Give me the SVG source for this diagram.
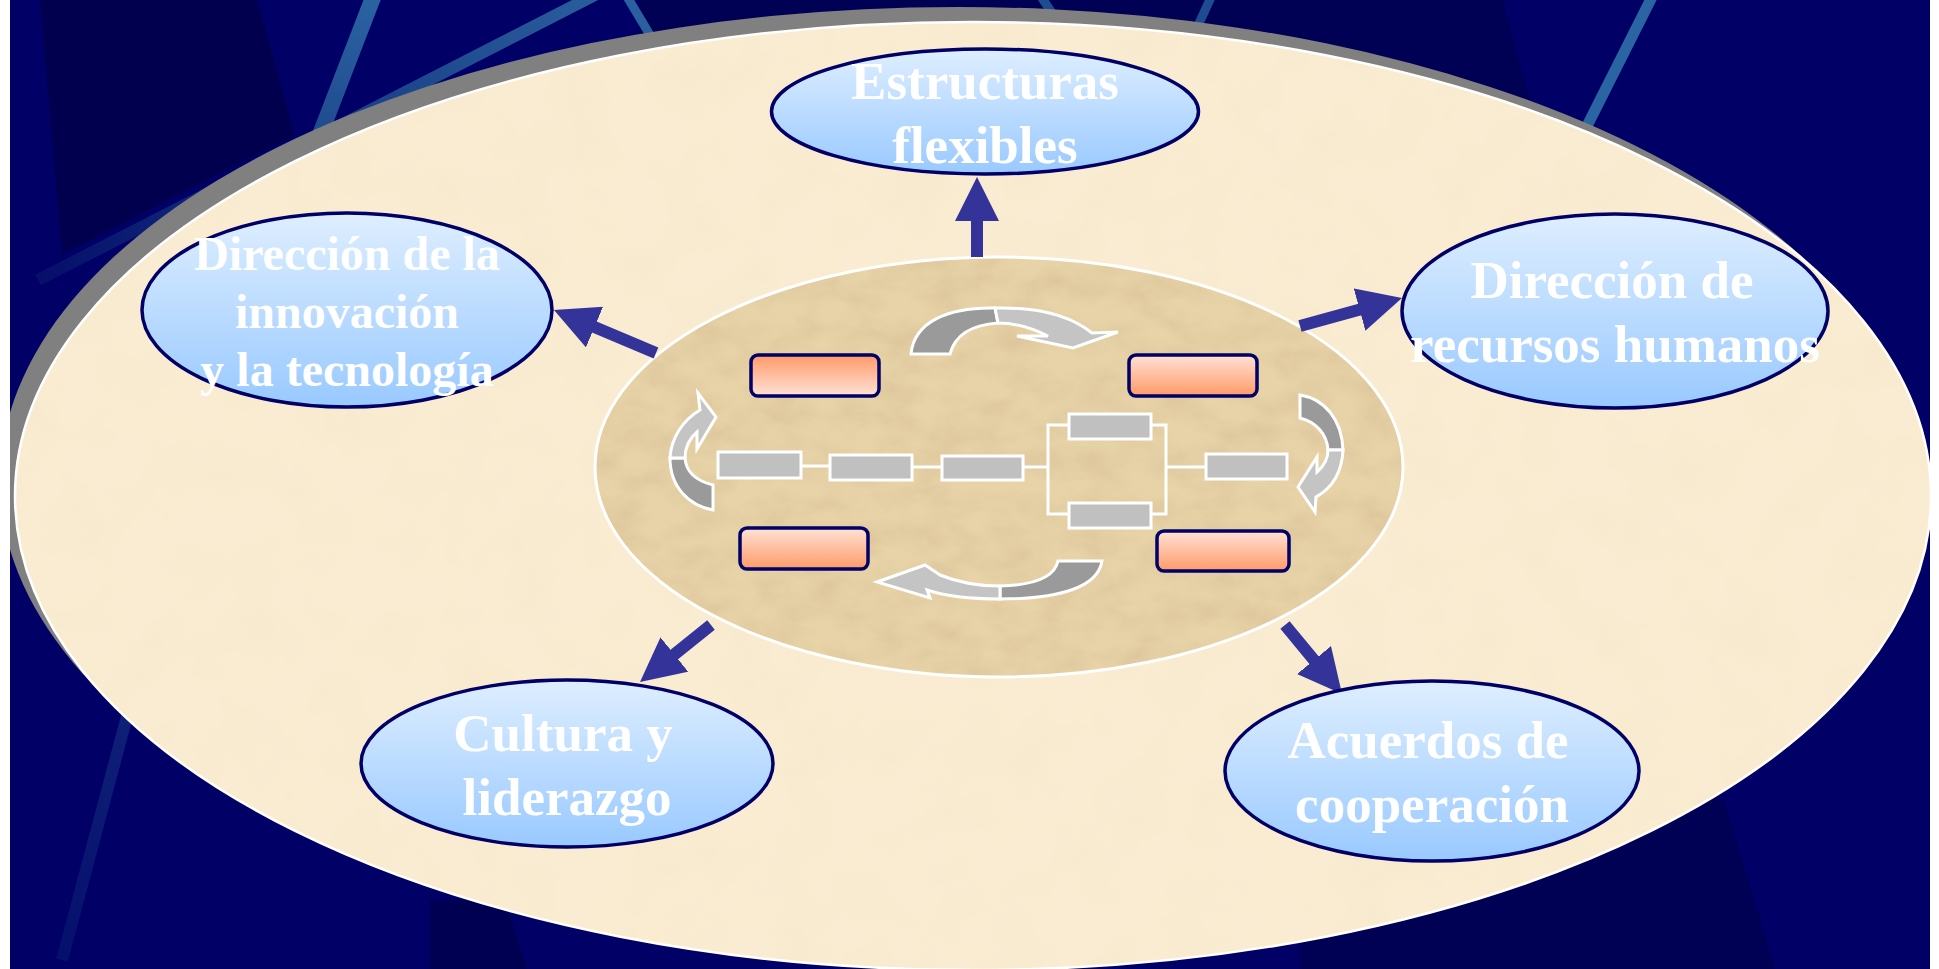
<svg xmlns="http://www.w3.org/2000/svg" width="1939" height="969" viewBox="0 0 1939 969">
<defs>
<style>
.node ellipse{fill:url(#nodeGrad);stroke:#000066;stroke-width:3.5}
.node text{font-family:"Liberation Serif","Times New Roman",serif;font-weight:bold;fill:#ffffff;text-anchor:middle}
.conn line{stroke:#333399;stroke-width:12;marker-end:url(#ah)}
.grect{fill:#c0c0c0;stroke:#ffffff;stroke-width:3}
.wline{stroke:#ffffff;stroke-width:3;fill:none}
.orect{stroke:#000066;stroke-width:3.5}
.dark{fill:#9a9a9a;stroke:#ffffff;stroke-width:3;stroke-linejoin:miter}
.light{fill:#c4c4c4;stroke:#ffffff;stroke-width:3;stroke-linejoin:miter}
.streak{fill:none;stroke-linecap:butt}
</style>
<linearGradient id="nodeGrad" x1="0" y1="0" x2="0" y2="1"><stop offset="0" stop-color="#deeeff"/><stop offset="1" stop-color="#99c9ff"/></linearGradient>
<linearGradient id="orDown" x1="0" y1="0" x2="0" y2="1"><stop offset="0" stop-color="#ffe2d6"/><stop offset="1" stop-color="#ff9a68"/></linearGradient>
<linearGradient id="orUp" x1="0" y1="0" x2="0" y2="1"><stop offset="0" stop-color="#ff9a68"/><stop offset="1" stop-color="#ffe2d6"/></linearGradient>
<linearGradient id="st1" gradientUnits="userSpaceOnUse" x1="372" y1="0" x2="320" y2="140"><stop offset="0" stop-color="#2a62a2"/><stop offset="1" stop-color="#1e4a8e"/></linearGradient>
<linearGradient id="st2" gradientUnits="userSpaceOnUse" x1="585" y1="0" x2="40" y2="278"><stop offset="0" stop-color="#2a5c9c"/><stop offset="0.5" stop-color="#163a84"/><stop offset="1" stop-color="#060e6a"/></linearGradient>
<linearGradient id="st7" gradientUnits="userSpaceOnUse" x1="127" y1="717" x2="62" y2="960"><stop offset="0" stop-color="#0f2078"/><stop offset="1" stop-color="#050f6c"/></linearGradient>
<marker id="ah" markerUnits="userSpaceOnUse" markerWidth="44" markerHeight="44" viewBox="0 0 44 44" refX="24" refY="22" orient="auto"><path d="M0,0 L44,22 L0,44 Z" fill="#333399"/></marker>
<filter id="texOuter" x="0" y="0" width="1" height="1">
<feTurbulence type="fractalNoise" baseFrequency="0.018" numOctaves="3" seed="2" result="n"/>
<feColorMatrix in="n" type="matrix" values="0 0 0 0 0.88  0 0 0 0 0.76  0 0 0 0 0.55  0.5 0 0 0 -0.2" result="c"/>
<feComposite in="c" in2="SourceGraphic" operator="in" result="cc"/>
<feMerge><feMergeNode in="SourceGraphic"/><feMergeNode in="cc"/></feMerge>
</filter>
<filter id="texInner" x="0" y="0" width="1" height="1">
<feTurbulence type="fractalNoise" baseFrequency="0.025 0.04" numOctaves="4" seed="7" result="n"/>
<feColorMatrix in="n" type="matrix" values="0 0 0 0 0.72  0 0 0 0 0.56  0 0 0 0 0.33  1.6 0 0 0 -0.5" result="c"/>
<feComposite in="c" in2="SourceGraphic" operator="in" result="cc"/>
<feMerge><feMergeNode in="SourceGraphic"/><feMergeNode in="cc"/></feMerge>
</filter>
</defs>

<g id="background">
<rect x="0" y="0" width="1939" height="969" fill="#000066"/>
<polygon points="40,0 257,0 295,135 62,255" fill="#00004f"/>
<polygon points="640,0 1502,0 1540,135 640,135" fill="#000055"/>
<polygon points="1723,797 1775,969 1300,969 1300,797" fill="#000055"/>
<polygon points="505,900 527,969 430,969 430,900" fill="#000052"/>
<line class="streak" x1="374" y1="-5" x2="318" y2="140" stroke="url(#st1)" stroke-width="16"/>
<line class="streak" x1="595" y1="-5" x2="38" y2="280" stroke="url(#st2)" stroke-width="12"/>
<line class="streak" x1="626" y1="-5" x2="656" y2="45" stroke="#2a60a0" stroke-width="9"/>
<line class="streak" x1="1040" y1="-5" x2="1060" y2="25" stroke="#1e4c92" stroke-width="9"/>
<line class="streak" x1="1212" y1="-5" x2="1196" y2="30" stroke="#1e4c92" stroke-width="9"/>
<line class="streak" x1="1653" y1="-5" x2="1585" y2="130" stroke="#2a64a2" stroke-width="11"/>
<line class="streak" x1="130" y1="705" x2="62" y2="960" stroke="url(#st7)" stroke-width="12"/>
</g>

<g id="outer-ellipse">
<ellipse cx="958" cy="481" rx="958" ry="474" fill="#808080"/>
<ellipse cx="973" cy="496" rx="958" ry="474" fill="#faecd2" filter="url(#texOuter)"/>
<ellipse cx="973" cy="496" rx="958" ry="474" fill="none" stroke="#ffffff" stroke-width="2.5"/>
</g>

<g id="inner-ellipse">
<ellipse cx="999" cy="467" rx="404" ry="210" fill="#e8d3a8" filter="url(#texInner)"/>
<ellipse cx="999" cy="467" rx="404" ry="210" fill="none" stroke="#ffffff" stroke-width="3"/>
</g>

<g id="process-diagram">
<g id="cycle-arrows">
<path class="dark" d="M 911 354 C 914 322 948 307 995 308 L 998 323 C 970 325 955 335 950 354 Z"/>
<path class="light" d="M 995 308 C 1040 307 1072 317 1092 333 L 1118 332 L 1073 348 L 1017 336 L 1048 336 C 1032 328 1016 323 998 323 Z"/>
<path class="dark" d="M 1300 395 C 1325 399 1342 420 1343 450 L 1328 450 C 1327 434 1316 422 1300 418 Z"/>
<path class="light" d="M 1343 450 C 1342 472 1332 488 1316 497 L 1315 512 L 1298 487 L 1317 457 L 1317 472 C 1324 466 1328 458 1328 450 Z"/>
<path class="dark" d="M 1102 561 C 1098 587 1060 599 1000 599 L 1000 586 C 1040 585 1055 575 1058 561 Z"/>
<path class="light" d="M 1000 599 C 965 599 942 595 927 590 L 930 598 L 877 582 L 925 565 L 940 575 C 957 582 976 586 1000 586 Z"/>
<path class="dark" d="M 713 510 C 690 506 670 488 670 458 L 685 458 C 686 472 697 481 713 485 Z"/>
<path class="light" d="M 670 458 C 671 438 683 420 700 410 L 698 393 L 716 417 L 697 449 L 697 432 C 690 438 685 447 685 458 Z"/>
</g>
<g id="flow-lines">
<line class="wline" x1="801" y1="466" x2="830" y2="466"/>
<line class="wline" x1="912" y1="467" x2="942" y2="467"/>
<line class="wline" x1="1023" y1="467" x2="1048" y2="467"/>
<polyline class="wline" points="1069,425 1048,425 1048,514 1069,514"/>
<polyline class="wline" points="1151,425 1166,425 1166,514 1151,514"/>
<line class="wline" x1="1166" y1="467" x2="1206" y2="467"/>
</g>
<g id="gray-boxes">
<rect class="grect" x="718" y="452" width="83" height="26"/>
<rect class="grect" x="830" y="455" width="82" height="25"/>
<rect class="grect" x="942" y="456" width="81" height="24"/>
<rect class="grect" x="1069" y="414" width="82" height="25"/>
<rect class="grect" x="1069" y="503" width="82" height="25"/>
<rect class="grect" x="1206" y="454" width="81" height="25"/>
</g>
<g id="orange-boxes">
<rect class="orect" x="751" y="355" width="128" height="41" rx="7" fill="url(#orUp)"/>
<rect class="orect" x="1129" y="355" width="128" height="41" rx="7" fill="url(#orDown)"/>
<rect class="orect" x="740" y="528" width="128" height="41" rx="7" fill="url(#orDown)"/>
<rect class="orect" x="1157" y="531" width="132" height="40" rx="7" fill="url(#orDown)"/>
</g>
</g>

<g id="connectors" class="conn">
<line x1="977" y1="257" x2="977" y2="197"/>
<line x1="656" y1="353" x2="572.4" y2="317.8"/>
<line x1="1300" y1="326" x2="1382.7" y2="303.3"/>
<line x1="711" y1="625" x2="655.6" y2="669.5"/>
<line x1="1285" y1="625" x2="1329.3" y2="678.6"/>
</g>

<g id="node-estructuras" class="node">
<ellipse cx="985" cy="111.5" rx="213.5" ry="62.5"/>
<text x="985" y="99" font-size="53">Estructuras</text>
<text x="985" y="163" font-size="53">flexibles</text>
</g>
<g id="node-innovacion" class="node">
<ellipse cx="347" cy="310" rx="205" ry="97"/>
<text x="347" y="270" font-size="48">Dirección de la</text>
<text x="347" y="328" font-size="48">innovación</text>
<text x="347" y="386" font-size="48">y la tecnología</text>
</g>
<g id="node-rrhh" class="node">
<ellipse cx="1615" cy="311" rx="213" ry="97"/>
<text x="1612" y="298" font-size="53">Dirección de</text>
<text x="1615" y="362" font-size="53">recursos humanos</text>
</g>
<g id="node-cultura" class="node">
<ellipse cx="567" cy="763.5" rx="206" ry="83.5"/>
<text x="563" y="751" font-size="53">Cultura y</text>
<text x="567" y="815" font-size="53">liderazgo</text>
</g>
<g id="node-acuerdos" class="node">
<ellipse cx="1432" cy="771" rx="207" ry="90"/>
<text x="1428" y="758" font-size="53">Acuerdos de</text>
<text x="1432" y="822" font-size="53">cooperación</text>
</g>

<g id="edges">
<rect x="0" y="0" width="10" height="969" fill="#ffffff"/>
<rect x="1930" y="0" width="9" height="969" fill="#ffffff"/>
</g>
</svg>
